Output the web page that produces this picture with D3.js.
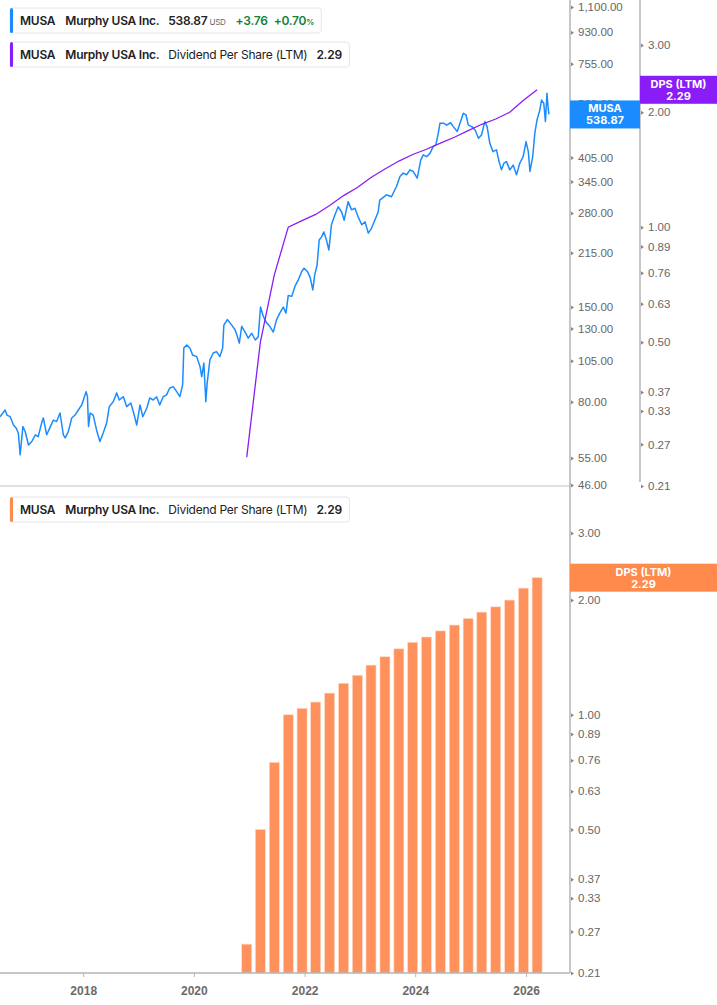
<!DOCTYPE html>
<html>
<head>
<meta charset="utf-8">
<script src="https://cdn.jsdelivr.net/npm/d3@7/dist/d3.min.js"></script>
<style>
  body { margin: 0; background: #fff; font-family: Inter, "Noto Sans", sans-serif; }
  svg { display: block; }
  .tick-label { font-size: 11.5px; fill: #666; }
</style>
</head>
<body>
<div id="chart"></div>
<script>
// Price (roughly every 2-3 weeks)
var priceDates = [
  "2016-07-01","2016-08-04","2016-08-16","2016-09-06","2016-09-28","2016-10-15","2016-10-30","2016-11-11","2016-11-29","2016-12-14",
  "2017-01-05","2017-01-27","2017-02-19","2017-03-10","2017-04-02","2017-04-13","2017-05-05","2017-05-26","2017-06-18","2017-07-10","2017-08-01","2017-08-23","2017-09-04","2017-09-25","2017-10-17","2017-11-08","2017-11-30","2017-12-22",
  "2018-01-20","2018-01-29","2018-02-05","2018-02-16","2018-03-08","2018-03-30","2018-04-21","2018-05-13","2018-06-05","2018-06-22","2018-07-18","2018-08-10","2018-08-27","2018-09-23","2018-10-15","2018-11-11","2018-11-28","2018-12-20",
  "2019-01-11","2019-01-29","2019-02-25","2019-03-16","2019-04-08","2019-04-30","2019-05-21","2019-06-13","2019-07-05","2019-07-26","2019-08-18","2019-09-10","2019-10-01","2019-10-19","2019-10-27","2019-11-15","2019-12-06","2019-12-24",
  "2020-01-20","2020-02-11","2020-02-22","2020-03-07","2020-03-20","2020-03-29","2020-04-16","2020-05-08","2020-05-30","2020-06-21","2020-07-09","2020-07-17","2020-08-09","2020-09-07","2020-09-29","2020-10-10","2020-10-27","2020-11-12","2020-12-04","2020-12-25",
  "2021-01-17","2021-02-09","2021-03-01","2021-03-16","2021-04-03","2021-04-25","2021-05-16","2021-06-08","2021-06-30","2021-07-21","2021-08-13","2021-08-31","2021-09-15","2021-10-08","2021-10-29","2021-11-21","2021-12-13","2021-12-28",
  "2022-01-19","2022-02-06","2022-02-24","2022-03-09","2022-03-24","2022-04-07","2022-04-23","2022-05-08","2022-05-25","2022-06-10","2022-06-27","2022-07-19","2022-08-10","2022-09-02","2022-09-19","2022-10-15","2022-11-07","2022-11-29","2022-12-20",
  "2023-01-13","2023-02-04","2023-02-25","2023-03-18","2023-04-09","2023-05-01","2023-05-12","2023-06-25","2023-07-28","2023-08-30","2023-09-22","2023-10-13","2023-11-05","2023-11-27","2023-12-18",
  "2024-01-14","2024-02-06","2024-02-23","2024-03-15","2024-04-07","2024-04-28","2024-05-16","2024-06-01","2024-06-12","2024-07-08","2024-07-26","2024-08-21","2024-09-08","2024-10-04","2024-10-22","2024-11-13","2024-12-01","2024-12-16",
  "2025-01-08","2025-01-30","2025-02-21","2025-03-13","2025-04-04","2025-04-19","2025-05-07","2025-05-28","2025-06-20","2025-07-07","2025-07-23","2025-08-08","2025-08-25","2025-09-16","2025-10-08","2025-10-30","2025-11-21","2025-12-13",
  "2026-01-01","2026-01-16","2026-01-27","2026-02-14","2026-02-28","2026-03-14","2026-04-02","2026-04-13","2026-04-28","2026-05-09","2026-05-19","2026-05-28","2026-06-02"
];
var priceValues = [
  72.4,75.7,73.2,72.4,68.5,67.2,65.0,56.2,67.8,65.6,
  60.0,61.4,64.2,63.4,69.5,71.8,64.2,67.2,70.8,70.1,74.2,64.2,62.9,65.6,71.8,73.2,75.7,78.3,
  85.5,82.7,67.8,74.2,73.2,66.3,61.4,65.0,69.5,77.4,80.0,84.8,80.9,82.7,77.4,79.3,74.8,68.5,
  78.3,72.4,76.7,82.0,80.9,82.7,78.3,82.7,83.7,87.6,88.4,85.5,82.7,89.4,114.3,116.6,114.3,109.1,
  107.9,100.9,94.4,103.4,80.0,90.6,105.5,110.5,111.5,107.9,114.3,133,138,133,129,125,118,132,127,122,
  126,120.5,123,150,141,135,132,127,138,144,150,144,162,161,172,180,190,194,
  190,183,168,186,198,234,239,247,234,219,259,276,292,282,267,302,286,289,273,
  259,264,245,253,267,282,305,316,312,334,357,365,361,373,369,
  353,398,412,407,416,435,440,476,508,508,502,510,497,481,508,543,537,502,
  497,486,460,470,514,497,445,421,426,394,373,390,394,373,385,361,390,407,
  450,421,369,407,476,519,555,593,580,514,620,555,538.87
];

// Dividend per share, last twelve months (quarterly)
var dpsDates = [
  "2020-12-15",
  "2021-03-15","2021-06-15","2021-09-15","2021-12-15",
  "2022-03-15","2022-06-15","2022-09-15","2022-12-15",
  "2023-03-15","2023-06-15","2023-09-15","2023-12-15",
  "2024-03-15","2024-06-15","2024-09-15","2024-12-15",
  "2025-03-15","2025-06-15","2025-09-15","2025-12-15",
  "2026-03-15"
];
var dpsValues = [0.25, 0.50, 0.75, 1.00, 1.04, 1.08, 1.14, 1.21, 1.27, 1.35, 1.42, 1.49, 1.55, 1.60, 1.66, 1.72, 1.79, 1.86, 1.92, 2.00, 2.15, 2.29];

// Axis ticks
var priceTicks = [1100, 930, 755, 580, 405, 345, 280, 215, 150, 130, 105, 80, 55, 46];
var dpsTicks = [3.00, 2.00, 1.00, 0.89, 0.76, 0.63, 0.50, 0.37, 0.33, 0.27, 0.21];
var yearTicks = ["2018", "2020", "2022", "2024", "2026"];

var lastPrice = 538.87, priceChange = 3.76, priceChangePct = 0.70, lastDps = 2.29;

var blue = "#1a8cff", purple = "#8a1cf7", orange = "#ff8a4c", barOrange = "#ff915d";
var axisGrey = "#b5b5b5";

const width = 717, height = 1005;
const plotRight = 570;       // price axis line
const divAxisX = 640;        // dividend axis in the top panel
const topBottom = 486, botBottom = 973;

const parse = d3.timeParse("%Y-%m-%d");
var prices = priceDates.map((d, i) => ({ date: parse(d), value: priceValues[i] }));
var dps = dpsDates.map((d, i) => ({ date: parse(d), value: dpsValues[i] }));

// Scales
const x = d3.scaleTime()
  .domain([parse("2016-07-01"), parse("2026-10-18")])
  .range([0, plotRight]);
const yPrice = d3.scaleLog().domain([46, 1100]).range([485, 7]);
const yDpsTop = d3.scaleLog().domain([0.21, 3]).range([486, 45]);
const yDpsBot = d3.scaleLog().domain([0.21, 3]).range([973, 533]);

var svg = d3.select("#chart")
  .append("svg")
  .attr("width", width)
  .attr("height", height);

svg.append("clipPath").attr("id", "clip-top")
  .append("rect").attr("x", 0).attr("y", 0).attr("width", plotRight).attr("height", topBottom);

// ---- top panel ----
svg.append("path")
  .datum(prices)
  .attr("clip-path", "url(#clip-top)")
  .attr("fill", "none")
  .attr("stroke", blue)
  .attr("stroke-width", 1.5)
  .attr("stroke-linejoin", "round")
  .attr("d", d3.line().x(d => x(d.date)).y(d => yPrice(d.value)));

svg.append("path")
  .datum(dps)
  .attr("fill", "none")
  .attr("stroke", purple)
  .attr("stroke-width", 1.3)
  .attr("d", d3.line().x(d => x(d.date)).y(d => yDpsTop(d.value)));

// ---- bottom panel bars ----
svg.append("g")
  .selectAll("rect")
  .data(dps)
  .join("rect")
  .attr("x", d => x(d.date) - 5)
  .attr("y", d => yDpsBot(d.value))
  .attr("width", 10)
  .attr("height", d => botBottom - yDpsBot(d.value))
  .attr("fill", barOrange)
  .attr("stroke", "#ffd9c6")
  .attr("stroke-width", 0.6);

// ---- frame lines ----
svg.append("line").attr("x1", 0).attr("x2", plotRight).attr("y1", topBottom).attr("y2", topBottom)
  .attr("stroke", "#d6d6d6").attr("stroke-width", 1.5);
svg.append("line").attr("x1", 0).attr("x2", plotRight).attr("y1", botBottom).attr("y2", botBottom)
  .attr("stroke", axisGrey).attr("stroke-width", 1.5);
svg.append("line").attr("x1", plotRight).attr("x2", plotRight).attr("y1", 0).attr("y2", botBottom)
  .attr("stroke", axisGrey).attr("stroke-width", 1.5);
svg.append("line").attr("x1", divAxisX).attr("x2", divAxisX).attr("y1", 0).attr("y2", 482)
  .attr("stroke", axisGrey).attr("stroke-width", 1.5);

// right axes: no lines, small arrow markers + labels
function rightAxis(scale, ticks, xPos, fmt) {
  var g = svg.append("g")
    .attr("transform", "translate(" + xPos + ",0)")
    .call(d3.axisRight(scale).tickValues(ticks).tickFormat(fmt).tickSize(0).tickPadding(8));
  g.select(".domain").remove();
  g.selectAll("text").attr("class", "tick-label").attr("font-family", null).attr("font-size", null).attr("fill", null);
  g.selectAll(".tick").append("path")
    .attr("d", "M1,-2L4,0L1,2Z")
    .attr("fill", "#888");
  return g;
}
rightAxis(yPrice, priceTicks, plotRight, d3.format(",.2f"));
rightAxis(yDpsTop, dpsTicks, divAxisX, d3.format(".2f"));
rightAxis(yDpsBot, dpsTicks, plotRight, d3.format(".2f"));

// time axis
var xAxis = svg.append("g")
  .attr("transform", "translate(0," + botBottom + ")")
  .call(d3.axisBottom(x).tickValues(yearTicks.map(y => parse(y + "-01-01"))).tickFormat(d3.timeFormat("%Y")).tickSize(4).tickPadding(9));
xAxis.select(".domain").remove();
xAxis.selectAll("line").attr("stroke", axisGrey);
xAxis.selectAll("text")
  .attr("font-family", null)
  .attr("font-size", 12)
  .attr("font-weight", 700)
  .attr("fill", "#6b6b6b");

// ---- value flags on the axes ----
function flag(x0, x1, yc, color, line1, line2) {
  var g = svg.append("g");
  g.append("rect").attr("x", x0).attr("y", yc - 14).attr("width", x1 - x0).attr("height", 28).attr("fill", color);
  g.append("text").attr("x", (x0 + x1) / 2).attr("y", yc - 2).attr("text-anchor", "middle")
    .attr("font-size", 11).attr("font-weight", 700).attr("fill", "#fff").text(line1);
  g.append("text").attr("x", (x0 + x1) / 2).attr("y", yc + 10).attr("text-anchor", "middle")
    .attr("font-size", 11).attr("font-weight", 700).attr("fill", "#fff").text(line2);
}
flag(plotRight, divAxisX, yPrice(lastPrice), blue, "MUSA", d3.format(".2f")(lastPrice));
flag(divAxisX, width, yDpsTop(lastDps), purple, "DPS (LTM)", d3.format(".2f")(lastDps));
flag(plotRight, width, yDpsBot(lastDps), orange, "DPS (LTM)", d3.format(".2f")(lastDps));

// ---- legends ----
function legend(y, color, parts) {
  var g = svg.append("g").attr("transform", "translate(10," + y + ")");
  var box = g.append("rect").attr("x", 0).attr("y", 0).attr("height", 25).attr("rx", 3)
    .attr("fill", "#fff").attr("stroke", "#e6e6e6");
  g.append("rect").attr("x", 0).attr("y", 0).attr("width", 3).attr("height", 25).attr("rx", 1.5).attr("fill", color);
  var t = g.append("text").attr("x", 10).attr("y", 17).attr("font-size", 12)
    .attr("letter-spacing", -0.25).attr("fill", "#222");
  parts.forEach(p => {
    t.append("tspan")
      .attr("dx", p.dx || 0)
      .attr("font-weight", p.w || 600)
      .attr("font-size", p.s || 12)
      .attr("fill", p.c || "#222")
      .text(p.t);
  });
  var bb = t.node().getBBox();
  box.attr("width", bb.x + bb.width + 7);
}
var green = "#12803a";
legend(8, blue, [
  { t: "MUSA" }, { t: "Murphy USA Inc.", dx: 10 }, { t: d3.format(".2f")(lastPrice), dx: 9 },
  { t: "USD", dx: 2, s: 8, w: 400, c: "#666" },
  { t: "+" + d3.format(".2f")(priceChange), dx: 10, c: green },
  { t: "+" + d3.format(".2f")(priceChangePct), dx: 6, c: green }, { t: "%", s: 8, c: green }
]);
var dpsParts = [
  { t: "MUSA" }, { t: "Murphy USA Inc.", dx: 10 }, { t: "Dividend Per Share (LTM)", dx: 9, w: 400 },
  { t: d3.format(".2f")(lastDps), dx: 9 }
];
legend(42, purple, dpsParts);
legend(497, orange, dpsParts);
</script>
</body>
</html>
